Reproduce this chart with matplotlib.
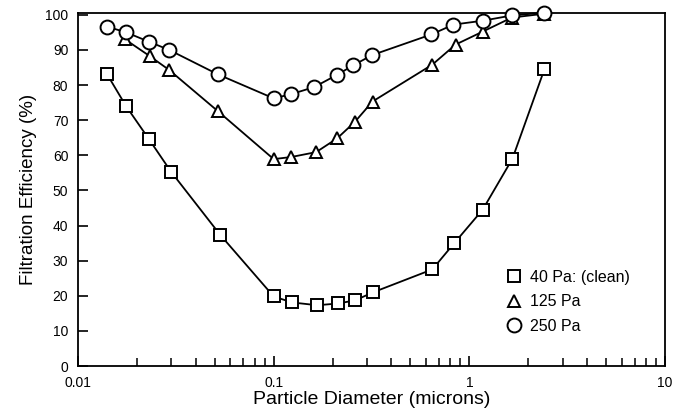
import matplotlib
matplotlib.use("Agg")
import matplotlib.pyplot as plt
from matplotlib.ticker import LogLocator, FixedLocator, NullFormatter

plt.rcParams["font.family"] = ["Liberation Sans", "DejaVu Sans"]

# particle diameter (microns) and efficiency (%) per loading
d_clean = [0.0141, 0.0176, 0.0231, 0.0299, 0.0532, 0.100, 0.124, 0.167, 0.214,
           0.261, 0.323, 0.647, 0.838, 1.17, 1.66, 2.42]
eff_clean = [83.0, 74.0, 64.5, 55.3, 37.4, 19.8, 18.1, 17.3, 17.8, 18.7, 21.0,
             27.5, 35.0, 44.5, 59.0, 84.5]

d_125 = [0.0174, 0.0233, 0.0292, 0.0520, 0.100, 0.123, 0.165, 0.211, 0.260,
         0.320, 0.647, 0.850, 1.17, 1.65, 2.42]
eff_125 = [93.0, 88.2, 84.3, 72.5, 58.9, 59.5, 60.9, 64.8, 69.5, 75.3, 85.8,
           91.5, 95.2, 99.2, 100.3]

d_250 = [0.0141, 0.0176, 0.0231, 0.0292, 0.0520, 0.100, 0.123, 0.161, 0.211,
         0.255, 0.318, 0.640, 0.830, 1.17, 1.65, 2.40]
eff_250 = [96.6, 95.0, 92.3, 90.0, 83.0, 76.2, 77.4, 79.4, 82.9, 85.6, 88.5,
           94.4, 97.2, 98.3, 99.8, 100.6]

series = [
    (d_clean, eff_clean, "s", 8, "40 Pa: (clean)"),
    (d_125, eff_125, "^", 9, "125 Pa"),
    (d_250, eff_250, "o", 10, "250 Pa"),
]

fig = plt.figure(figsize=(6.91, 4.16), dpi=100)
ax = fig.add_axes([78 / 691, 50 / 416, 587 / 691, 353 / 416])

for d, e, m, ms, lab in series:
    ax.plot(d, e, color="black", lw=1.3, marker=m, ms=ms, mfc="white",
            mec="black", mew=1.4, label=lab, clip_on=False, zorder=3)

ax.set_xscale("log")
ax.set_xlim(0.01, 10)
ax.set_ylim(0, 100.5)
ax.yaxis.set_major_locator(FixedLocator(range(0, 101, 10)))
ax.xaxis.set_minor_locator(LogLocator(base=10, subs=range(2, 10), numticks=20))
ax.xaxis.set_minor_formatter(NullFormatter())
ax.set_xticks([0.01, 0.1, 1, 10])
ax.set_xticklabels(["0.01", "0.1", "1", "10"])

ax.tick_params(axis="both", which="major", direction="in", length=7,
               width=1.2, labelsize=10, pad=7)
ax.tick_params(axis="x", which="minor", direction="in", length=6, width=1.1)
ax.tick_params(top=False, right=False, which="both")
for s in ax.spines.values():
    s.set_linewidth(1.3)

ax.set_xlabel("Particle Diameter (microns)", fontsize=14, labelpad=1)
ax.set_ylabel("Filtration Efficiency (%)", fontsize=13.5, labelpad=6)

ax.legend(loc="lower right", bbox_to_anchor=(0.965, 0.05), frameon=False,
          fontsize=11.5, handlelength=1.0, handletextpad=0.5,
          labelspacing=0.6)
for h in ax.get_legend().legend_handles:
    h.set_linestyle("none")

fig.savefig("out.png", dpi=100)
